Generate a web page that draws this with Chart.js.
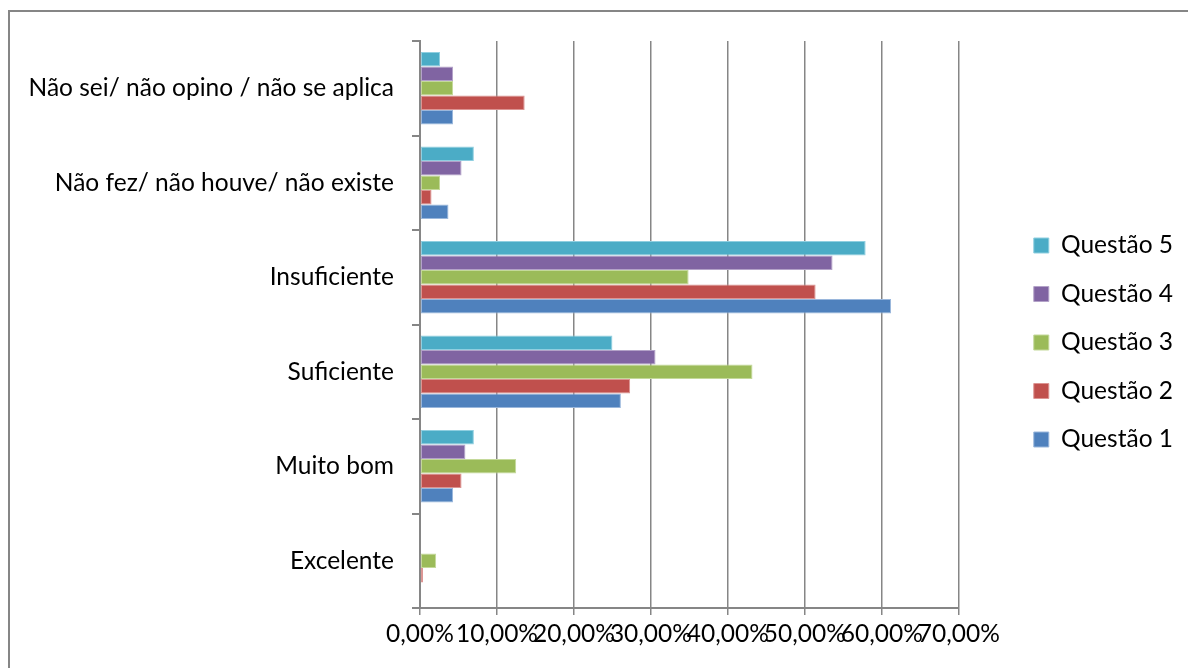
<!DOCTYPE html>
<html>
<head>
<meta charset="utf-8">
<script src="https://cdn.jsdelivr.net/npm/chart.js@4/dist/chart.umd.min.js"></script>
<style>
	html, body { margin: 0; padding: 0; background: #fff; }
	.wrap { position: relative; width: 1188px; height: 668px; overflow: hidden; }
	.frame {
		position: absolute; left: 8px; top: 10px; width: 1300px; height: 800px;
		border-top: 2px solid #868686; border-left: 2px solid #868686;
	}
	canvas { position: absolute; left: 0; top: 0; }
</style>
</head>
<body>
<div class="wrap">
	<div class="frame"></div>
	<canvas id="chart" width="1188" height="668"></canvas>
</div>
<script>
const categories = [
	'Não sei/ não opino / não se aplica',
	'Não fez/ não houve/ não existe',
	'Insuficiente',
	'Suficiente',
	'Muito bom',
	'Excelente',
];

// values in %, same order as categories (top to bottom)
const questao5 = [2.6, 7.0, 57.9, 25.0, 7.0, 0];
const questao4 = [4.3, 5.4, 53.6, 30.6, 5.9, 0];
const questao3 = [4.3, 2.6, 34.9, 43.2, 12.5, 2.1];
const questao2 = [13.6, 1.5, 51.4, 27.3, 5.4, 0.4];
const questao1 = [4.3, 3.7, 61.2, 26.1, 4.3, 0];

const xTicks = [0, 10, 20, 30, 40, 50, 60, 70];

const fontFamily = 'Lato, "Open Sans", sans-serif';
const gridColor = '#868686';

// extra room between plot and legend, and small nudges for the legend column
const legendGap = 55;
const legendNudgeX = -4;
const legendLift = 12;

const legendShift = {
	id: 'legendShift',
	afterInit(chart) {
		const legend = chart.legend;
		const fit = legend.fit;
		legend.fit = function () {
			fit.call(this);
			this.width += legendGap;
		};
	},
	afterLayout(chart) {
		const legend = chart.legend;
		legend.left += legendGap + legendNudgeX;
		legend.top -= legendLift;
		legend.bottom -= legendLift;
	},
};

const buildDataset = (label, data, fill, edge) => ({
	label,
	data,
	backgroundColor: fill,
	borderColor: edge,
	borderWidth: 1,
	borderSkipped: false,
	barPercentage: 1,
	categoryPercentage: 0.767,
});

const chart = new Chart(document.getElementById('chart'), {
	type: 'bar',
	data: {
		labels: categories,
		datasets: [
			buildDataset('Questão 5', questao5, '#4BACC6', '#8fcfe0'),
			buildDataset('Questão 4', questao4, '#8064A2', '#b3a2c8'),
			buildDataset('Questão 3', questao3, '#9BBB59', '#c4d99a'),
			buildDataset('Questão 2', questao2, '#C0504D', '#dc9492'),
			buildDataset('Questão 1', questao1, '#4F81BD', '#9ab7dc'),
		],
	},
	plugins: [legendShift],
	options: {
		responsive: false,
		animation: false,
		indexAxis: 'y',
		layout: {
			padding: { left: 0, right: 1, top: 41, bottom: 0 },
		},
		plugins: {
			legend: {
				position: 'right',
				labels: {
					color: '#000',
					boxWidth: 15,
					boxHeight: 15,
					padding: 24,
					font: { family: fontFamily, size: 24.5 },
				},
			},
			tooltip: { enabled: false },
		},
		scales: {
			x: {
				min: 0,
				max: 70,
				afterBuildTicks: (scale) => {
					scale.ticks = xTicks.map((v) => ({ value: v }));
				},
				afterFit: (scale) => {
					scale.height = 60;
				},
				ticks: {
					color: '#000',
					padding: 4,
					maxRotation: 0,
					autoSkip: false,
					font: { family: fontFamily, size: 24.5 },
					callback: (v) => v.toFixed(2).replace('.', ',') + '%',
				},
				grid: {
					color: gridColor,
					lineWidth: 1.5,
					tickLength: 7,
				},
				border: { color: gridColor, width: 2 },
			},
			y: {
				afterFit: (scale) => {
					scale.width = 420;
				},
				ticks: {
					color: '#000',
					padding: 18,
					font: { family: fontFamily, size: 24.5 },
				},
				grid: {
					drawOnChartArea: false,
					color: gridColor,
					lineWidth: 2,
					tickLength: 8,
				},
				border: { color: gridColor, width: 2 },
			},
		},
	},
});
</script>
</body>
</html>
